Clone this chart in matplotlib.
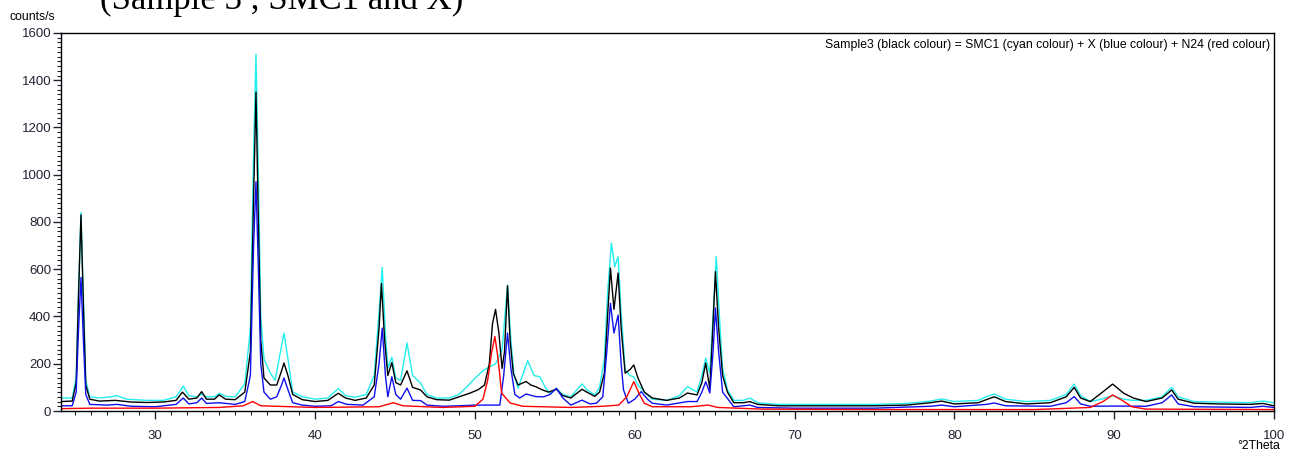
import matplotlib
matplotlib.use("Agg")
import matplotlib.pyplot as plt
from matplotlib.ticker import MultipleLocator, FixedLocator

plt.rcParams['font.family'] = ['Liberation Sans', 'DejaVu Sans']

# 2Theta / counts per second
sample3_x = [24.1, 24.8, 25.05, 25.2, 25.35, 25.5, 25.65, 25.9, 26.5, 27.5, 28.5, 29.5, 30.5,
             31.3, 31.7, 32.1, 32.6, 32.9, 33.2, 33.7, 34.0, 34.4, 35.0, 35.6, 35.95, 36.15,
             36.3, 36.45, 36.6, 36.8, 37.2, 37.6, 37.9, 38.05, 38.3, 38.6, 39.2, 40.0, 40.8,
             41.45, 41.9, 42.5, 43.2, 43.7, 44.0, 44.15, 44.35, 44.55, 44.8, 45.05, 45.35,
             45.75, 46.1, 46.6, 47.0, 47.6, 48.4, 49.0, 49.7, 50.2, 50.6, 50.9, 51.1, 51.29,
             51.5, 51.7, 51.85, 52.04, 52.2, 52.4, 52.7, 53.2, 53.5, 53.8, 54.2, 54.6, 55.1,
             55.5, 56.0, 56.7, 57.0, 57.5, 57.8, 58.1, 58.3, 58.48, 58.7, 58.96, 59.15, 59.4,
             59.7, 59.94, 60.2, 60.6, 61.1, 62.0, 62.8, 63.3, 63.9, 64.2, 64.44, 64.7, 64.85,
             65.05, 65.25, 65.5, 65.8, 66.2, 66.8, 67.2, 67.7, 69.0, 72.0, 75.0, 77.0, 78.5,
             79.2, 80.0, 81.5, 82.0, 82.5, 83.2, 84.5, 86.0, 87.0, 87.5, 87.9, 88.5, 89.2,
             89.9, 90.6, 91.2, 92.0, 93.0, 93.6, 94.0, 95.0, 96.5, 98.5, 99.3, 100.0]
sample3_y = [40, 42, 120, 500, 830, 450, 110, 50, 42, 45, 38, 36, 38,
             45, 80, 50, 55, 82, 50, 50, 68, 50, 48, 80, 250, 900,
             1350, 800, 300, 140, 110, 110, 170, 203, 150, 70, 48, 40, 45,
             75, 55, 45, 55, 110, 350, 540, 300, 150, 205, 120, 110,
             170, 100, 89, 60, 48, 46, 60, 76, 90, 110, 200, 370, 430,
             330, 180, 250, 530, 300, 160, 110, 125, 110, 103, 90, 80, 92,
             65, 55, 92, 80, 62, 80, 160, 400, 605, 430, 584, 350, 160,
             175, 195, 140, 80, 55, 45, 55, 76, 68, 120, 203, 95, 300,
             590, 350, 150, 80, 35, 35, 40, 28, 22, 22, 22, 25, 35,
             42, 30, 35, 48, 60, 40, 30, 35, 60, 100, 55, 40, 76,
             114, 75, 55, 40, 55, 89, 50, 33, 30, 28, 32, 22]

smc1_x = [24.1, 24.8, 25.05, 25.2, 25.35, 25.5, 25.65, 25.9, 26.5, 27.2, 27.6, 28.2, 29.5,
          30.5, 31.3, 31.75, 32.1, 32.6, 32.9, 33.2, 33.7, 34.0, 34.4, 35.0, 35.6, 35.95,
          36.15, 36.3, 36.45, 36.6, 36.8, 37.2, 37.5, 37.8, 38.05, 38.3, 38.6, 39.2, 40.0,
          40.8, 41.45, 41.9, 42.5, 43.2, 43.7, 44.0, 44.2, 44.4, 44.55, 44.8, 45.05, 45.35,
          45.75, 46.1, 46.6, 47.0, 47.6, 48.4, 49.0, 49.6, 50.1, 50.5, 50.94, 51.3, 51.7,
          51.9, 52.04, 52.25, 52.45, 52.7, 53.3, 53.7, 54.06, 54.4, 54.7, 55.1, 55.5, 56.0,
          56.7, 57.0, 57.5, 57.8, 58.1, 58.3, 58.54, 58.75, 58.96, 59.15, 59.4, 59.7, 59.94,
          60.2, 60.6, 61.1, 62.0, 62.8, 63.3, 63.9, 64.2, 64.44, 64.7, 64.9, 65.1, 65.3,
          65.5, 65.8, 66.2, 66.8, 67.2, 67.7, 69.0, 72.0, 75.0, 77.0, 78.5, 79.2, 80.0,
          81.5, 82.0, 82.5, 83.2, 84.5, 86.0, 87.0, 87.5, 87.9, 88.5, 89.2, 89.9, 90.6,
          91.2, 92.0, 93.0, 93.6, 94.0, 95.0, 96.5, 98.5, 99.3, 100.0]
smc1_y = [55, 55, 140, 520, 840, 480, 130, 60, 55, 60, 65, 50, 45,
          45, 60, 105, 65, 60, 72, 60, 60, 75, 62, 60, 115, 350,
          1100, 1510, 1000, 400, 220, 160, 130, 240, 330, 220, 80, 60, 50,
          55, 95, 65, 58, 70, 150, 420, 608, 330, 180, 228, 140, 130,
          288, 150, 118, 70, 55, 55, 70, 110, 145, 170, 188, 200, 260,
          420, 533, 300, 150, 97, 213, 150, 145, 100, 75, 95, 70, 60,
          115, 90, 68, 100, 220, 500, 710, 611, 653, 420, 174, 150, 145,
          110, 80, 50, 45, 65, 103, 80, 150, 224, 160, 400, 653, 400,
          180, 90, 45, 45, 55, 35, 28, 28, 28, 32, 42, 51, 40,
          45, 60, 72, 50, 40, 45, 70, 114, 65, 40, 50, 65, 50,
          45, 45, 60, 100, 60, 40, 38, 35, 42, 35]

x_comp_x = [24.1, 24.8, 25.05, 25.2, 25.35, 25.5, 25.65, 25.9, 27.0, 27.6, 28.5, 30.0, 31.3,
            31.75, 32.1, 32.6, 32.9, 33.2, 34.0, 35.0, 35.6, 35.95, 36.15, 36.3, 36.45, 36.6,
            36.8, 37.2, 37.6, 37.9, 38.05, 38.3, 38.6, 39.2, 40.0, 41.0, 41.45, 42.0, 43.0,
            43.7, 44.0, 44.2, 44.4, 44.55, 44.8, 45.05, 45.35, 45.75, 46.1, 46.6, 47.0, 48.0,
            49.0, 50.0, 51.0, 51.56, 51.8, 52.04, 52.25, 52.5, 52.8, 53.2, 53.8, 54.3, 54.7,
            55.1, 55.5, 56.0, 56.7, 57.2, 57.6, 58.0, 58.25, 58.48, 58.7, 58.96, 59.15, 59.3,
            59.6, 60.0, 60.4, 60.8, 61.1, 62.0, 63.3, 63.9, 64.2, 64.44, 64.7, 64.9, 65.05,
            65.25, 65.5, 66.2, 67.2, 67.7, 70.0, 75.0, 78.5, 79.2, 80.0, 82.0, 82.5, 83.2,
            86.0, 87.0, 87.5, 87.9, 88.5, 90.0, 92.0, 93.0, 93.6, 94.0, 95.0, 98.5, 99.3, 100.0]
x_comp_y = [22, 22, 80, 350, 565, 300, 70, 28, 25, 28, 20, 18, 28,
            55, 30, 35, 55, 32, 35, 28, 40, 150, 700, 970, 600, 200,
            80, 50, 60, 110, 140, 90, 35, 25, 20, 22, 40, 28, 25,
            60, 200, 351, 150, 60, 145, 70, 50, 97, 45, 44, 25, 20,
            22, 25, 25, 25, 150, 330, 180, 70, 55, 72, 61, 60, 70,
            96, 55, 25, 46, 30, 33, 60, 250, 456, 330, 406, 200, 89,
            33, 50, 82, 50, 33, 25, 40, 40, 80, 124, 76, 250, 436,
            250, 80, 18, 25, 15, 12, 12, 20, 25, 18, 28, 34, 22,
            20, 35, 61, 30, 20, 21, 20, 35, 68, 30, 18, 15, 20, 15]

n24_x = [24.1, 26.0, 30.0, 34.0, 35.5, 36.1, 36.6, 40.0, 44.0, 44.9, 45.5, 48.0, 50.0,
         50.5, 50.8, 51.05, 51.25, 51.45, 51.67, 52.2, 53.0, 56.0, 58.0, 59.0, 59.5, 59.94,
         60.3, 60.6, 61.1, 63.5, 64.6, 65.2, 68.0, 75.0, 85.0, 88.5, 89.3, 89.9, 90.5,
         91.1, 92.0, 100.0]
n24_y = [10, 12, 12, 15, 22, 40, 22, 15, 18, 35, 22, 15, 20,
         50, 131, 250, 315, 220, 76, 34, 20, 15, 20, 25, 60, 124,
         70, 33, 18, 18, 25, 15, 8, 6, 6, 15, 40, 68, 45,
         18, 8, 6]

legend_text = "Sample3 (black colour) = SMC1 (cyan colour) + X (blue colour) + N24 (red colour)"

fig = plt.figure(figsize=(12.98, 4.55), dpi=100)
ax = fig.add_axes([0.047, 0.0967, 0.9345, 0.8308])

ax.plot(smc1_x, smc1_y, color='#22eeee', lw=1.0)
ax.plot(sample3_x, sample3_y, color='black', lw=1.0)
ax.plot(x_comp_x, x_comp_y, color='#1010ee', lw=1.0)
ax.plot(n24_x, n24_y, color='#ff0000', lw=1.0)

ax.set_xlim(24.1, 100)
ax.set_ylim(0, 1600)

ax.xaxis.set_major_locator(FixedLocator([30, 40, 50, 60, 70, 80, 90, 100]))
ax.xaxis.set_minor_locator(MultipleLocator(1))
ax.yaxis.set_major_locator(MultipleLocator(200))
ax.yaxis.set_minor_locator(MultipleLocator(20))
ax.tick_params(axis='both', which='major', direction='out', length=6, width=1,
               labelsize=9.5, colors='#222233')
ax.tick_params(axis='both', which='minor', direction='out', length=3, width=0.8,
               colors='#222233')
ax.tick_params(axis='x', which='major', pad=8)
ax.tick_params(axis='y', which='major', pad=1)
for s in ax.spines.values():
    s.set_linewidth(1.0)

ax.text(0.9965, 0.985, legend_text, transform=ax.transAxes, ha='right', va='top',
        fontsize=8.8, color='black')

fig.text(10 / 1298, 1 - 17 / 455, "counts/s", fontsize=8.8, ha='left', va='center')
fig.text(1280 / 1298, 1 - 446 / 455, "°2Theta", fontsize=8.8, ha='right', va='center')
# caption line above the chart, cut off by the top edge as in the original
fig.text(100 / 1298, 1 - 9 / 455, "(Sample 3 , SMC1 and X)", fontsize=25,
         family='Liberation Serif', ha='left', va='baseline')

fig.savefig("out.png", dpi=100)
